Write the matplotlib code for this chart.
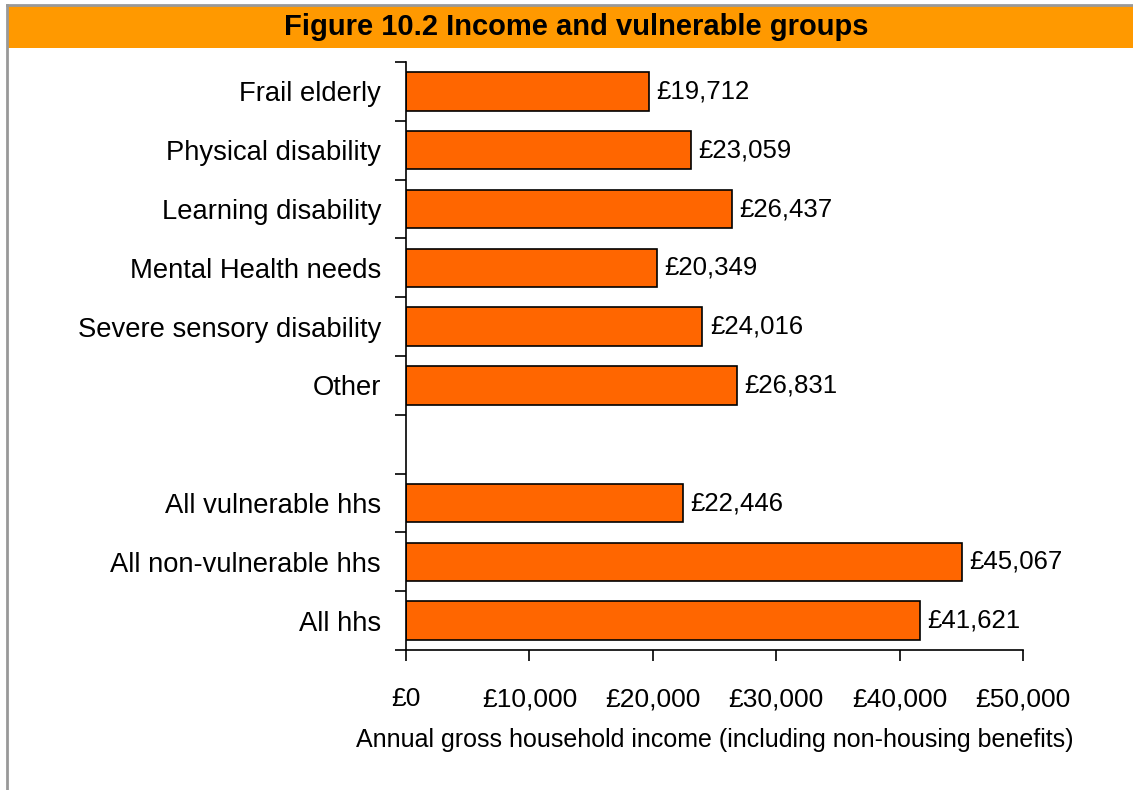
import matplotlib
matplotlib.use("Agg")
import matplotlib.pyplot as plt
import matplotlib.patches as patches
from matplotlib.ticker import FuncFormatter, FixedLocator

plt.rcParams['font.family'] = ['Liberation Sans Narrow', 'Liberation Sans', 'DejaVu Sans']

categories = ["Frail elderly", "Physical disability", "Learning disability",
              "Mental Health needs", "Severe sensory disability", "Other", "",
              "All vulnerable hhs", "All non-vulnerable hhs", "All hhs"]
values = [19712, 23059, 26437, 20349, 24016, 26831, None, 22446, 45067, 41621]
x_ticks = [0, 10000, 20000, 30000, 40000, 50000]

bar_color = "#FF6600"
title_color = "#FF9900"

fig = plt.figure(figsize=(11.33, 7.9), dpi=100)
W, H = 1133, 790

# title bar and frame
fig.patches.append(patches.Rectangle((7 / W, 1 - 48 / H), 1 - 7 / W, 43 / H,
                                     transform=fig.transFigure, facecolor=title_color,
                                     edgecolor="none", zorder=0))
fig.lines.append(plt.Line2D([7 / W, 7 / W], [0, 1 - 5 / H], transform=fig.transFigure,
                            color="#999999", linewidth=2))
fig.lines.append(plt.Line2D([7 / W, 1], [1 - 5 / H, 1 - 5 / H], transform=fig.transFigure,
                            color="#999999", linewidth=2))
fig.text(576 / W, 1 - 27 / H, "Figure 10.2 Income and vulnerable groups",
         ha="center", va="center", fontsize=21, fontweight="bold")

ax = fig.add_axes([406 / W, 1 - 650 / H, (1023 - 406) / W, (650 - 62) / H])

n = len(categories)
pos = list(range(n))
for i, v in enumerate(values):
    if v is None:
        continue
    ax.barh(i, v, height=0.65, color=bar_color, edgecolor="black", linewidth=1.2)
    ax.text(v + 600, i, "£{:,}".format(v), va="center", ha="left", fontsize=18.5)

ax.set_ylim(n - 0.5, -0.5)
ax.set_xlim(0, 50000)
ax.set_yticks(pos)
ax.set_yticklabels(categories, fontsize=19.7)
ax.tick_params(axis="y", which="major", length=0, pad=18)
ax.yaxis.set_minor_locator(FixedLocator([i - 0.5 for i in range(n + 1)]))
ax.tick_params(axis="y", which="minor", length=8, width=1.2, direction="out")

ax.set_xticks(x_ticks)
ax.xaxis.set_major_formatter(FuncFormatter(lambda x, p: "£{:,.0f}".format(x)))
ax.tick_params(axis="x", length=8, width=1.2, direction="out", labelsize=19, pad=19)
ax.set_xlabel("Annual gross household income (including non-housing benefits)",
              fontsize=18, labelpad=12)

for s in ["top", "right"]:
    ax.spines[s].set_visible(False)
for s in ["left", "bottom"]:
    ax.spines[s].set_linewidth(1.2)

fig.savefig("out.png", dpi=100)
